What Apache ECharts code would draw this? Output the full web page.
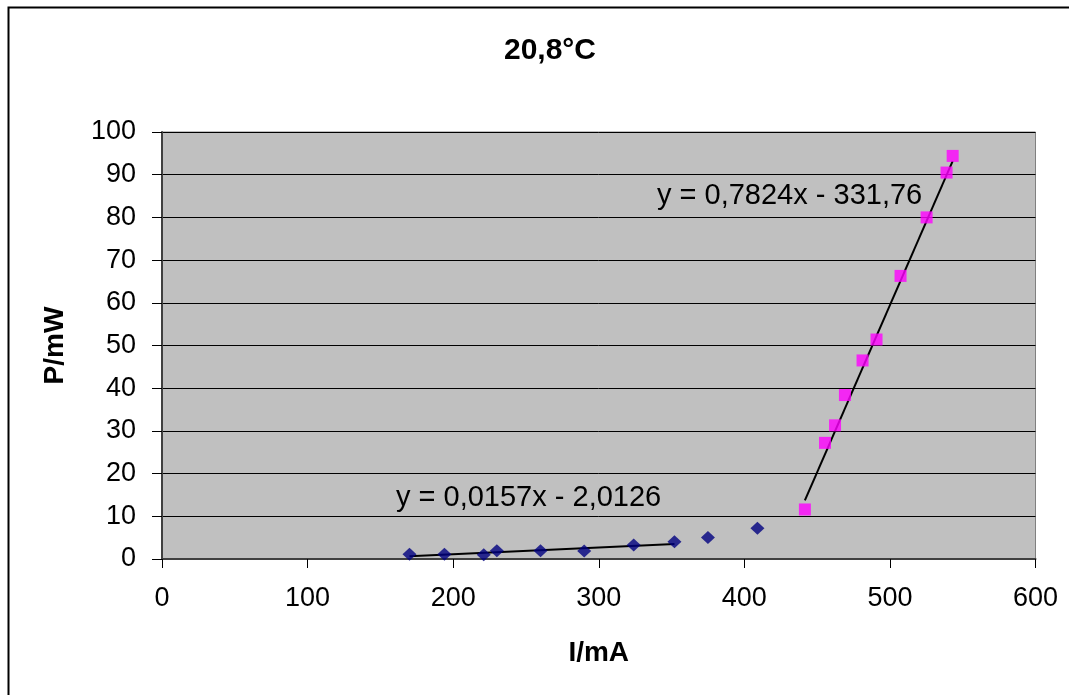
<!DOCTYPE html>
<html>
<head>
<meta charset="utf-8">
<script src="https://cdn.jsdelivr.net/npm/echarts@6/dist/echarts.min.js"></script>
<style>
  html, body { margin: 0; padding: 0; background: #fff; }
  #chart { width: 1069px; height: 695px; }
</style>
</head>
<body>
<div id="chart"></div>
<script>
// Measured current I (mA) and optical power P (mW) at 20,8 °C
const belowCurrent = [170, 194, 221, 230, 260, 290, 324, 352, 375, 409];
const belowPower   = [1.1, 1.1, 1.0, 1.95, 1.95, 1.9, 3.3, 4.05, 5.05, 7.2];
const aboveCurrent = [441.6, 455.4, 462.3, 469.1, 481.2, 490.8, 507.3, 525.2, 538.9, 543.1];
const abovePower   = [11.6, 27.2, 31.3, 38.4, 46.5, 51.4, 66.3, 80.0, 90.5, 94.4];

// Linear fits: P = slope * I + intercept
const belowFit = { slope: 0.0157, intercept: -2.0126, from: 170, to: 352 };
const aboveFit = { slope: 0.7824, intercept: -331.76, from: 441.6, to: 543.1 };
const belowFitText = 'y = 0,0157x - 2,0126';
const aboveFitText = 'y = 0,7824x - 331,76';

const titleText = '20,8°C';
const xName = 'I/mA';
const yName = 'P/mW';

const FONT = '"Liberation Sans", Arial, sans-serif';

const pairs = (xs, ys) => xs.map((x, i) => [x, ys[i]]);
const fitLine = f => [f.from, f.to].map(x => [x, f.slope * x + f.intercept]);

const chart = echarts.init(document.getElementById('chart'));
chart.setOption({
  animation: false,
  backgroundColor: '#ffffff',
  title: {
    text: titleText,
    left: 545, top: 31,
    textAlign: 'center',
    textStyle: { fontFamily: FONT, fontSize: 30, fontWeight: 'bold', color: '#000' }
  },
  grid: {
    left: 162, top: 132, right: 33.5, bottom: 136,
    show: true, backgroundColor: '#c0c0c0', borderColor: '#808080', borderWidth: 1
  },
  xAxis: {
    type: 'value', min: 0, max: 600, interval: 100,
    name: xName, nameLocation: 'middle', nameGap: 80,
    nameTextStyle: { fontFamily: FONT, fontSize: 28, fontWeight: 'bold', color: '#000' },
    axisLine: { show: true, onZero: false, lineStyle: { color: '#404040', width: 2 } },
    axisTick: { show: true, inside: false, length: 9, lineStyle: { color: '#000', width: 1 } },
    axisLabel: { fontFamily: FONT, fontSize: 27, color: '#000', margin: 26 },
    splitLine: { show: false }
  },
  yAxis: {
    type: 'value', min: 0, max: 100, interval: 10,
    name: yName, nameLocation: 'middle', nameGap: 93, nameRotate: 90,
    nameTextStyle: { fontFamily: FONT, fontSize: 28, fontWeight: 'bold', color: '#000' },
    axisLine: { show: true, lineStyle: { color: '#404040', width: 2 } },
    axisTick: { show: true, inside: false, length: 10, lineStyle: { color: '#000', width: 1 } },
    axisLabel: { fontFamily: FONT, fontSize: 27, color: '#000', margin: 26 },
    splitLine: { show: true, lineStyle: { color: '#000', width: 1 } }
  },
  graphic: [
    {
      type: 'rect', silent: true,
      shape: { x: 8.5, y: 7.5, width: 1200, height: 800 },
      style: { fill: null, stroke: '#000', lineWidth: 2 }
    },
    {
      type: 'text', silent: true,
      style: { text: aboveFitText, x: 657, y: 196, font: '29px ' + FONT, fill: '#000', verticalAlign: 'middle' }
    },
    {
      type: 'text', silent: true,
      style: { text: belowFitText, x: 396, y: 498, font: '29px ' + FONT, fill: '#000', verticalAlign: 'middle' }
    }
  ],
  series: [
    {
      type: 'line', data: fitLine(belowFit), showSymbol: false, silent: true,
      lineStyle: { color: '#000', width: 2 }, z: 3
    },
    {
      type: 'line', data: fitLine(aboveFit), showSymbol: false, silent: true,
      lineStyle: { color: '#000', width: 2 }, z: 3
    },
    {
      type: 'scatter', data: pairs(belowCurrent, belowPower),
      symbol: 'diamond', symbolSize: [14, 13],
      itemStyle: { color: '#000080' }, z: 4
    },
    {
      type: 'scatter', data: pairs(aboveCurrent, abovePower),
      symbol: 'rect', symbolSize: 12,
      itemStyle: { color: '#ff00ff' }, z: 4
    }
  ]
});
</script>
</body>
</html>
